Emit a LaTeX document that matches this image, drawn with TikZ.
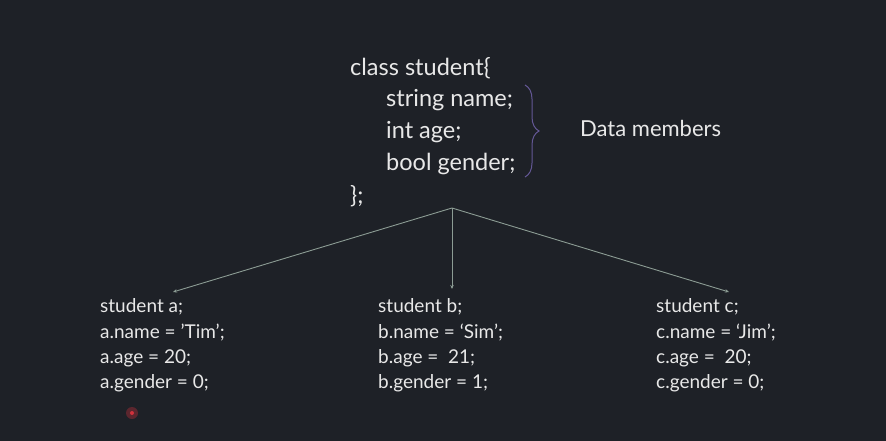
\documentclass[tikz,border=0pt]{standalone}
\usepackage{fontspec}
\setmainfont{Lato}
\usetikzlibrary{arrows.meta,decorations.pathreplacing}
\definecolor{bg}{RGB}{30,33,39}
\definecolor{txt}{RGB}{232,232,232}
\definecolor{lin}{RGB}{140,156,148}
\definecolor{brc}{RGB}{100,88,150}
\definecolor{dot}{RGB}{210,50,60}
\tikzset{
  big/.style={text=txt,font=\fontsize{23.5}{28}\selectfont,anchor=base west,inner sep=0pt},
  label/.style={text=txt,font=\fontsize{22}{26}\selectfont,anchor=base west,inner sep=0pt},
  small/.style={text=txt,font=\fontsize{19}{22}\selectfont,anchor=base west,inner sep=0pt},
  conn/.style={draw=lin,line width=0.9pt,-{Stealth[length=4pt,width=3.5pt]}},
}
\begin{document}
\begin{tikzpicture}[x=1pt,y=-1pt]
\fill[bg] (0,0) rectangle (886,441);
\useasboundingbox (0,0) rectangle (886,441);
% class definition
\node[big] (cls) at (350,76) {class student\{};
\node[big] (m1) at (386,107) {string name;};
\node[big] (m2) at (386,139) {int age;};
\node[big] (m3) at (386,171) {bool gender;};
\node[big] (cl) at (350,203) {\};};
\node[label] (dm) at (580,137) {Data members};
\coordinate (bt) at (525,85);
\coordinate (bb) at (525,177);
\draw[brc,line width=1pt,decorate,decoration={brace,amplitude=14pt,aspect=0.5}] (bt) -- (bb);
% objects
\node[small] (a1) at (100,312) {student a;};
\node[small] (a2) at (100,338) {a.name = ’Tim’;};
\node[small] (a3) at (100,363) {a.age = 20;};
\node[small] (a4) at (100,388) {a.gender = 0;};
\node[small] (b1) at (378,312) {student b;};
\node[small] (b2) at (378,338) {b.name = ‘Sim’;};
\node[small] (b3) at (378,363) {b.age =\ \ 21;};
\node[small] (b4) at (378,388) {b.gender = 1;};
\node[small] (c1) at (656,312) {student c;};
\node[small] (c2) at (656,338) {c.name = ‘Jim’;};
\node[small] (c3) at (656,363) {c.age =\ \ 20;};
\node[small] (c4) at (656,388) {c.gender = 0;};
% connectors
\coordinate (root) at (452,208);
\coordinate (ta) at (173,292);
\coordinate (tb) at (452,289);
\coordinate (tc) at (729,292);
\draw[conn] (root) -- (ta);
\draw[conn] (root) -- (tb);
\draw[conn] (root) -- (tc);
% cursor dot
\fill[dot,opacity=0.35] (132,413) circle (6);
\fill[dot] (132,413) circle (2);
\end{tikzpicture}
\end{document}
